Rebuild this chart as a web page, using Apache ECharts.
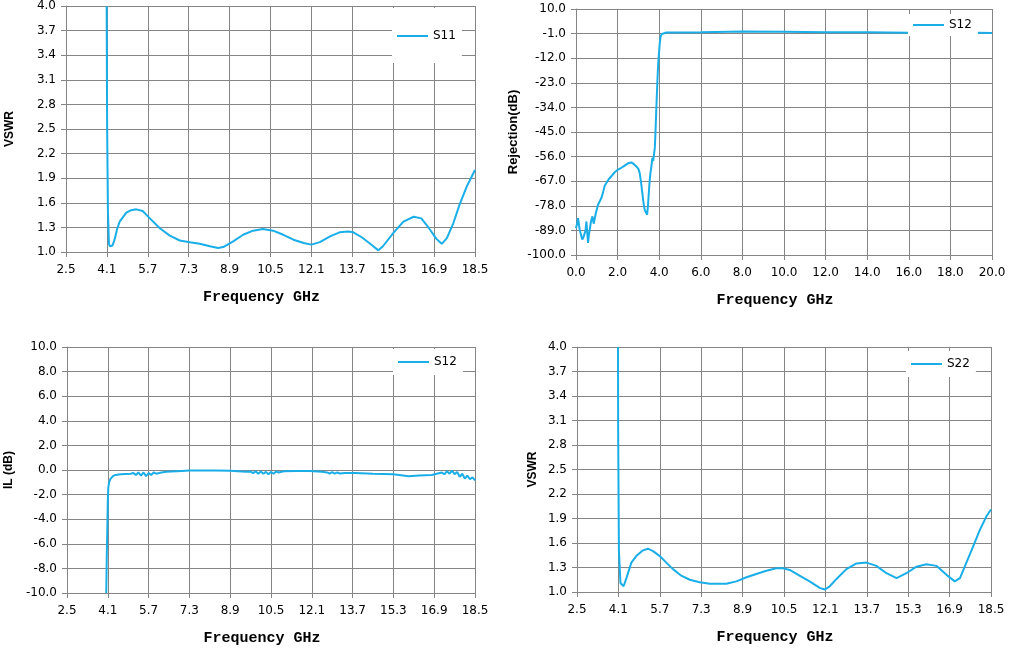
<!DOCTYPE html>
<html>
<head>
<meta charset="utf-8">
<script src="https://cdn.jsdelivr.net/npm/echarts@6/dist/echarts.min.js"></script>
<style>html,body{margin:0;padding:0;background:#fff}#c{width:1009px;height:653px}</style>
</head>
<body>
<div id="c"></div>
<script>
// ---- data ----
const s11Freq = [4.09,4.11,4.14,4.18,4.22,4.32,4.4,4.5,4.6,4.86,5.05,5.25,5.5,5.78,6.17,6.56,6.95,7.34,7.73,8.13,8.45,8.65,9.04,9.43,9.82,10.2,10.6,11.0,11.4,11.8,12.1,12.43,12.83,13.2,13.54,13.74,14.07,14.4,14.72,14.9,15.3,15.7,16.1,16.4,16.7,16.99,17.2,17.4,17.65,17.9,18.18,18.5];
const s11Vswr = [4.0,2.5,1.5,1.1,1.07,1.08,1.15,1.28,1.37,1.48,1.51,1.52,1.50,1.41,1.29,1.20,1.14,1.12,1.10,1.07,1.05,1.06,1.13,1.21,1.26,1.28,1.26,1.21,1.15,1.11,1.09,1.12,1.19,1.24,1.25,1.24,1.18,1.10,1.02,1.07,1.23,1.37,1.43,1.41,1.29,1.16,1.10,1.17,1.35,1.58,1.80,2.00];

const rejFreq = [0,0.05,0.1,0.15,0.18,0.24,0.3,0.36,0.42,0.46,0.5,0.54,0.58,0.62,0.66,0.72,0.79,0.85,0.9,0.96,1.06,1.14,1.22,1.3,1.38,1.46,1.58,1.7,1.86,2.02,2.18,2.34,2.5,2.66,2.8,2.9,3.0,3.06,3.12,3.19,3.25,3.3,3.36,3.42,3.46,3.5,3.54,3.58,3.63,3.67,3.71,3.75,3.79,3.82,3.86,3.91,3.95,3.99,4.03,4.07,4.13,4.19,4.35,6,8,10,12,14,16,18,19.3,20];
const rejDb = [-88,-86,-83.5,-87,-88.7,-91,-93.1,-92,-91.7,-89,-85,-90,-94.6,-91,-88.7,-85,-82.7,-86,-85.7,-81,-77.5,-77,-74.5,-72,-69,-68.5,-66,-64.8,-63,-61.8,-61,-60,-59,-58.6,-59.5,-60.4,-61.5,-63.3,-67,-72.3,-77,-79.7,-80,-82,-78,-72.3,-67,-63.3,-60,-56.6,-58,-58.1,-52,-45.4,-35,-23,-15,-9.7,-5,-2.2,-1.2,-0.7,-0.5,-0.35,-0.1,-0.2,-0.35,-0.4,-0.65,-0.6,-0.65,-0.75];

const ilFreq = [4.04,4.06,4.08,4.1,4.12,4.16,4.2,4.3,4.4,4.6,4.8,5.0,5.1,5.2,5.3,5.4,5.5,5.6,5.7,5.8,5.9,6.0,6.2,6.4,6.6,6.8,7.0,7.3,7.8,8.3,8.9,9.2,9.5,9.7,9.8,9.9,10.0,10.1,10.2,10.3,10.4,10.5,10.6,10.7,10.8,11.0,11.5,12.0,12.5,12.7,12.8,12.9,13.0,13.1,13.2,13.4,13.8,14.5,15.3,15.6,15.9,16.3,16.8,17.0,17.2,17.3,17.4,17.5,17.6,17.7,17.8,17.9,18.0,18.1,18.2,18.3,18.4,18.5];
const ilDb = [-10,-7,-4.9,-2.5,-1.4,-0.95,-0.75,-0.5,-0.4,-0.35,-0.32,-0.3,-0.25,-0.4,-0.2,-0.45,-0.2,-0.5,-0.25,-0.4,-0.2,-0.3,-0.2,-0.15,-0.12,-0.1,-0.08,-0.05,-0.04,-0.05,-0.07,-0.1,-0.15,-0.12,-0.25,-0.1,-0.3,-0.12,-0.3,-0.15,-0.35,-0.15,-0.3,-0.12,-0.2,-0.1,-0.08,-0.08,-0.15,-0.2,-0.3,-0.18,-0.3,-0.2,-0.28,-0.25,-0.25,-0.3,-0.35,-0.42,-0.5,-0.45,-0.4,-0.3,-0.2,-0.35,-0.1,-0.3,-0.05,-0.35,-0.15,-0.55,-0.3,-0.7,-0.45,-0.75,-0.6,-0.85];

const s22Freq = [4.085,4.09,4.12,4.18,4.3,4.41,4.6,4.79,5.05,5.24,5.44,5.7,5.95,6.21,6.53,6.86,7.24,7.63,8.27,8.66,9.05,9.43,9.82,10.2,10.46,10.72,11.1,11.49,11.88,12.07,12.27,12.53,12.91,13.3,13.69,14.07,14.46,14.85,15.23,15.62,16.0,16.39,16.78,17.1,17.3,17.55,17.81,18.07,18.33,18.5];
const s22Vswr = [4.0,3.0,1.5,1.11,1.07,1.17,1.36,1.44,1.51,1.53,1.50,1.44,1.36,1.28,1.20,1.15,1.12,1.10,1.10,1.13,1.18,1.22,1.26,1.29,1.29,1.27,1.20,1.13,1.05,1.03,1.07,1.16,1.28,1.35,1.36,1.32,1.23,1.17,1.23,1.31,1.34,1.32,1.21,1.13,1.17,1.36,1.56,1.76,1.93,2.01];

// axis ranges (tick labels)
const fAxis = {min: 2.5, max: 18.5, step: 1.6};
const rejFAxis = {min: 0, max: 20, step: 2};
const vswrAxis = {min: 1.0, max: 4.0, step: 0.3};
const rejAxis = {min: -100, max: 10, step: 11};
const ilAxis = {min: -10, max: 10, step: 2};

// ---- chart ----
const GRID = '#858585';
const LINE = '#1aaee8';
const grids = [
  {left: 66, top: 6, width: 409, height: 246},
  {left: 576, top: 9, width: 416, height: 246},
  {left: 67, top: 347, width: 408, height: 246},
  {left: 577, top: 347, width: 414, height: 245}
];

// axes are built relative to their min so that ticks start at min
function xAx(idx, a) {
  return {
    type: 'value', gridIndex: idx, min: 0, max: a.max - a.min, interval: a.step,
    name: 'Frequency GHz', nameLocation: 'middle', nameGap: 38,
    nameTextStyle: {fontFamily: 'Liberation Mono', fontWeight: 'bold', fontSize: 15, color: '#000', padding: [0, 18, 0, 0]},
    axisLine: {show: true, onZero: false, lineStyle: {color: GRID, width: 1}},
    axisTick: {show: true, length: 5, lineStyle: {color: GRID}},
    splitLine: {show: true, lineStyle: {color: GRID, width: 1}},
    axisLabel: {color: '#000', fontSize: 12, fontFamily: 'DejaVu Sans', margin: 12,
      formatter: v => (v + a.min).toFixed(1)}
  };
}
function yAx(idx, a, name, gap, pad) {
  return {
    type: 'value', gridIndex: idx, min: 0, max: a.max - a.min, interval: a.step,
    name: name, nameLocation: 'middle', nameGap: gap,
    nameTextStyle: {fontFamily: 'Liberation Sans', fontWeight: 'bold', fontSize: name.length > 8 ? 13 : 12, color: '#000', padding: pad || 0},
    axisLine: {show: true, onZero: false, lineStyle: {color: GRID, width: 1}},
    axisTick: {show: true, length: 5, lineStyle: {color: GRID}},
    splitLine: {show: true, lineStyle: {color: GRID, width: 1}},
    axisLabel: {color: '#000', fontSize: 12, fontFamily: 'DejaVu Sans', margin: 10,
      formatter: v => (v + a.min).toFixed(1)}
  };
}
function ser(name, idx, fx, fy, xa, ya) {
  return {
    type: 'line', name: name, xAxisIndex: idx, yAxisIndex: idx,
    data: fx.map((f, i) => [f - xa.min, fy[i] - ya.min]),
    showSymbol: false, symbol: 'none', smooth: false,
    lineStyle: {color: LINE, width: 2}, itemStyle: {color: LINE},
    animation: false
  };
}
function leg(name, left, top, pad) {
  return {
    data: [name], left: left, top: top, padding: pad, backgroundColor: '#fff',
    icon: 'rect', itemWidth: 31, itemHeight: 2, itemGap: 5, selectedMode: false,
    textStyle: {color: '#000', fontSize: 12, fontFamily: 'DejaVu Sans'}
  };
}

const chart = echarts.init(document.getElementById('c'), null, {renderer: 'canvas'});
chart.setOption({
  animation: false,
  backgroundColor: '#fff',
  grid: grids,
  xAxis: [xAx(0, fAxis), xAx(1, rejFAxis), xAx(2, fAxis), xAx(3, fAxis)],
  yAxis: [
    yAx(0, vswrAxis, 'VSWR', 50),
    yAx(1, rejAxis, 'Rejection(dB)', 56),
    yAx(2, ilAxis, 'IL (dB)', 52, [0, 0, 0, 0]),
    yAx(3, vswrAxis, 'VSWR', 38)
  ],
  legend: [
    leg('S11', 392, 8, [22, 6, 21, 5]),
    leg('S12', 908, 14, [5, 6, 5, 5]),
    leg('S12', 393, 349, [7, 6, 7, 5]),
    leg('S22', 906, 351, [7, 6, 7, 5])
  ],
  series: [
    ser('S11', 0, s11Freq, s11Vswr, fAxis, vswrAxis),
    ser('S12', 1, rejFreq, rejDb, rejFAxis, rejAxis),
    ser('S12', 2, ilFreq, ilDb, fAxis, ilAxis),
    ser('S22', 3, s22Freq, s22Vswr, fAxis, vswrAxis)
  ]
});
</script>
</body>
</html>
